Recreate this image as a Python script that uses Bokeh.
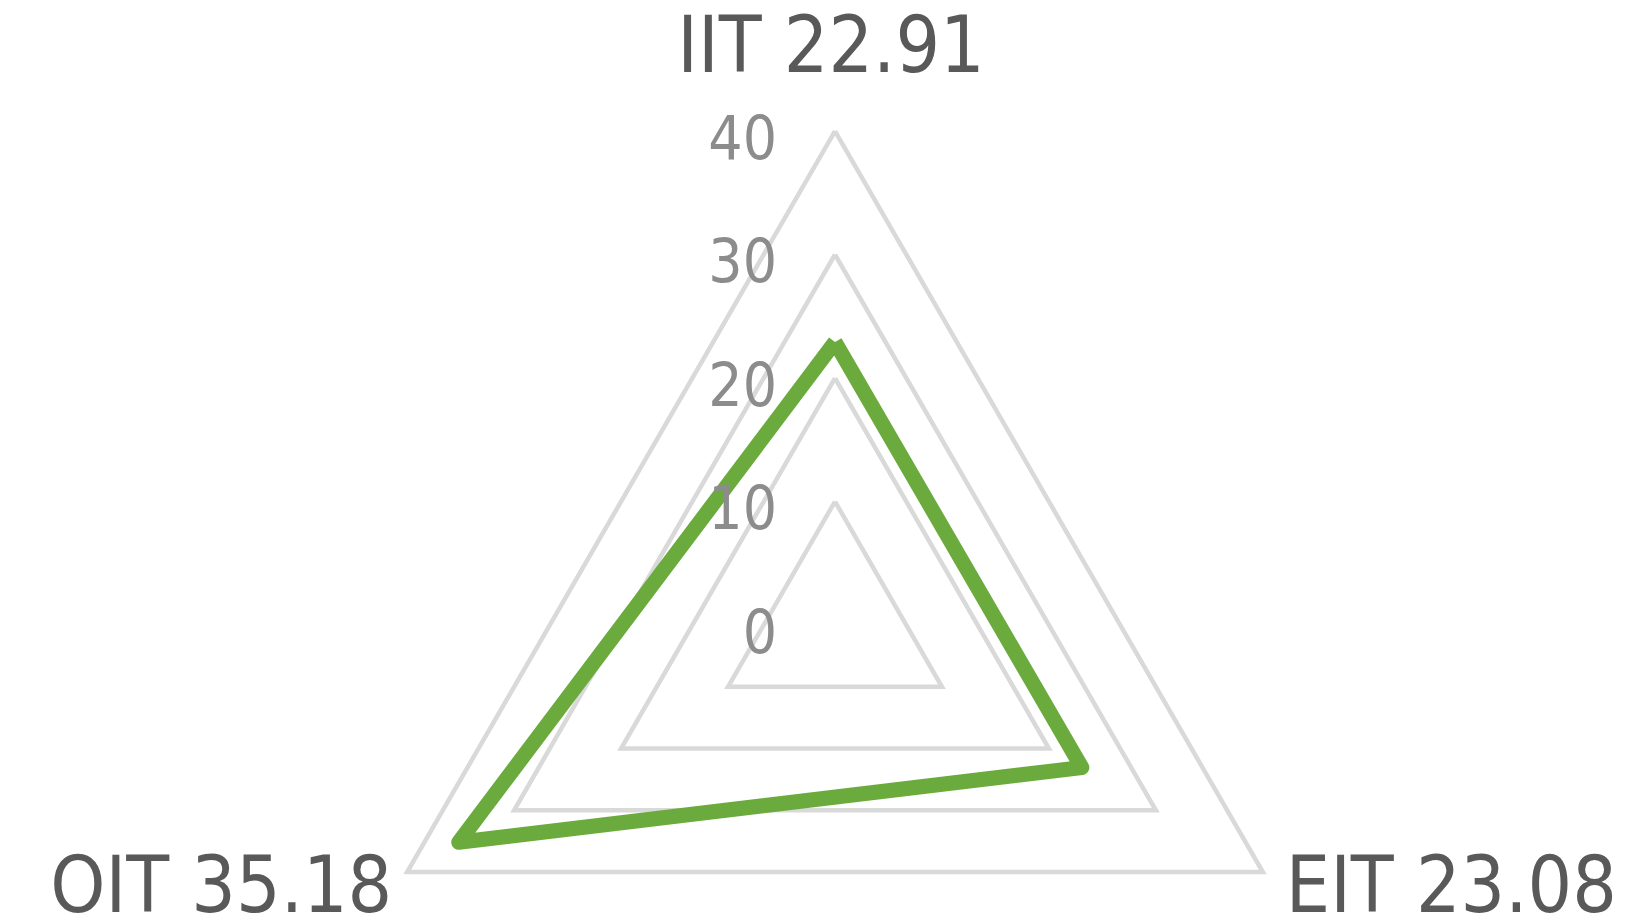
import math
from bokeh.plotting import figure
from bokeh.models import Range1d, ColumnDataSource
from bokeh.core.properties import value
from bokeh.embed import file_html
from bokeh.resources import INLINE

categories = ["IIT", "EIT", "OIT"]
values = [22.91, 23.08, 35.18]
angles_deg = [90, -30, 210]
tick_values = [0, 10, 20, 30, 40]
tick_labels = ["0", "10", "20", "30", "40"]
r_max = 40

W, H = 1630, 923
scale = 12.35           # px per unit
cx, cy = 834.5, 624.5   # centre in figure pixels (from top-left)

p = figure(width=W, height=H, output_backend="svg", toolbar_location=None,
           x_axis_location=None, y_axis_location=None, min_border=0,
           x_range=Range1d(-cx / scale, (W - cx) / scale),
           y_range=Range1d(-(H - cy) / scale, cy / scale))
p.outline_line_color = None
p.grid.visible = False
p.background_fill_color = "white"

rad = [math.radians(a) for a in angles_deg]

# grid triangles
gx, gy = [], []
for t in tick_values[1:]:
    gx.append([t * math.cos(a) for a in rad] + [t * math.cos(rad[0])])
    gy.append([t * math.sin(a) for a in rad] + [t * math.sin(rad[0])])
p.multi_line(gx, gy, line_color="#d9d9d9", line_width=4.5, line_join="miter")

# data polygon
dx = [v * math.cos(a) for v, a in zip(values, rad)]
dy = [v * math.sin(a) for v, a in zip(values, rad)]
p.line(dx + [dx[0]], dy + [dy[0]], line_color="#6BAA3C", line_width=15, line_join="round")

# tick labels
p.text(x=[0] * len(tick_values), y=tick_values, text=tick_labels,
       text_font=value("DejaVu Sans Condensed"), text_font_size="60px",
       text_color="#8C8C8C", text_align="right", text_baseline="alphabetic",
       x_offset=-58, y_offset=5)

# category labels
lab = [f"{c} {v:.2f}" for c, v in zip(categories, values)]
vx = [r_max * math.cos(a) for a in rad]
vy = [r_max * math.sin(a) for a in rad]
src = ColumnDataSource(dict(x=vx, y=vy, text=lab,
                            align=["center", "left", "right"],
                            xo=[-4, 23, -15], yo=[-86, 13, 13]))
p.text(x="x", y="y", text="text", source=src, text_align="align",
       x_offset="xo", y_offset="yo",
       text_font=value("DejaVu Sans Condensed"), text_font_size="78px",
       text_color="#595959", text_baseline="alphabetic")

open("out.html", "w").write(file_html(p, INLINE))
